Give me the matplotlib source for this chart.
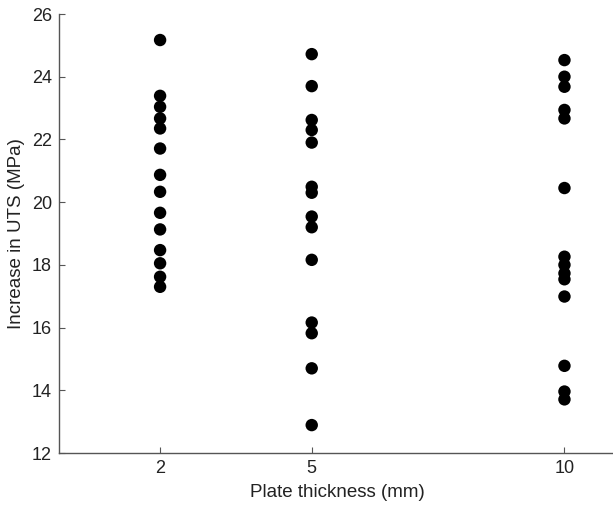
import matplotlib
matplotlib.use("Agg")
import matplotlib.pyplot as plt

plt.rcParams['font.family'] = ['Liberation Sans', 'DejaVu Sans']

# plate thickness groups (mm)
thickness = [2, 5, 10]

# increase in UTS (MPa) read per thickness
uts_2mm = [25.17, 23.39, 23.04, 22.67, 22.35, 21.71, 20.87, 20.33, 19.66, 19.13,
           18.47, 18.05, 17.62, 17.30]
uts_5mm = [24.72, 23.70, 22.62, 22.30, 21.90, 20.49, 20.30, 19.54, 19.20, 18.16,
           16.16, 15.82, 14.70, 12.89]
uts_10mm = [24.53, 24.00, 23.68, 22.94, 22.67, 20.45, 18.26, 18.00, 17.73, 17.54,
            16.99, 14.78, 13.96, 13.71]

y_ticks = [12, 14, 16, 18, 20, 22, 24, 26]

fig = plt.figure(figsize=(6.13, 5.08), dpi=100)
ax = fig.add_axes([59 / 613, 55 / 508, 556 / 613, 439 / 508])

for t, vals in zip(thickness, [uts_2mm, uts_5mm, uts_10mm]):
    ax.scatter([t] * len(vals), vals, s=80, color='black', edgecolors='none', zorder=3)

ax.set_xlim(0, 11)
ax.set_ylim(12, 26)
ax.set_xticks(thickness)
ax.set_xticklabels([str(t) for t in thickness])
ax.set_yticks(y_ticks)

for side in ['top', 'right']:
    ax.spines[side].set_visible(False)
for side in ['left', 'bottom']:
    ax.spines[side].set_color('#555555')
    ax.spines[side].set_linewidth(1.0)

ax.tick_params(direction='in', length=4, width=0.8, color='#555555',
               labelsize=13, labelcolor='#222222', pad=5)

ax.set_xlabel('Plate thickness (mm)', fontsize=13.5, color='#222222', labelpad=5)
ax.set_ylabel('Increase in UTS (MPa)', fontsize=13.5, color='#222222', labelpad=5)

fig.savefig('out.png', dpi=100)
